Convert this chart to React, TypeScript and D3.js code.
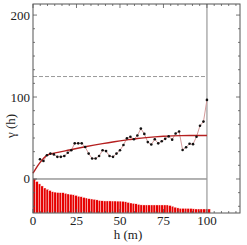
import React, { useRef, useEffect } from 'react';
import * as d3 from 'd3';

// experimental semivariogram: lag (m) and gamma
const lags = [4, 6, 8, 10, 12, 14, 16, 18, 20, 22, 24, 26, 28, 30, 32, 34, 36, 38, 40, 42, 44, 46, 48, 50,
  52, 54, 56, 58, 60, 62, 64, 66, 68, 70, 72, 74, 76, 78, 80, 82, 84, 86, 88, 90, 92, 94, 96, 98, 100];
const gamma = [24, 22, 29, 31, 30, 27, 27, 28, 32, 35, 43.5, 43.5, 43.5, 39, 31, 25, 25, 28, 35, 34, 28, 27, 31, 35,
  41.5, 49.6, 51.6, 48.4, 53, 61.5, 55, 45, 42, 48.4, 43.5, 46, 49, 52, 48, 55.5, 58, 35.4, 38.7, 43, 42.5, 51.6, 65, 70, 96.5];

// fitted model curve
const modelH = [0, 2, 4, 6, 8, 10, 15, 20, 25, 30, 35, 40, 45, 50, 55, 60, 65, 70, 75, 80, 85, 90, 100];
const modelG = [7, 14, 20, 25, 29, 30.5, 32.8, 35, 37.2, 39.3, 41.3, 43.1, 44.8, 46.5, 48, 49.4, 50.5, 51.4, 52.1, 52.6, 52.9, 53, 53];

// bars hanging below zero (bar top value), one per 1.5 m
const barStep = 1.5;
const barTops = [0, -3, -6, -8.5, -11, -12.5, -14, -15.5, -16, -16.5, -16.7, -16.7, -17.5, -18.3, -18.7, -19.3,
  -20, -21, -21.6, -22.5, -23.2, -24, -24.4, -24.8, -25.5, -26.2, -26.6, -26.8, -26.8, -26.8, -26.9, -26.9,
  -27, -27, -27.2, -27.8, -28.6, -29.3, -29.8, -30.3, -31, -31.6, -31.7, -31.7, -31.7, -31.7, -31.7, -31.7,
  -31.7, -31.7, -31.7, -31.7, -32.3, -33.2, -34.4, -35.3, -35.8, -35.8, -35.8, -35.9, -35.9, -36.4, -36.6,
  -36.6, -36.6, -36.6, -36.6, -36.6];

const sill = 125;
const xTicks = [0, 25, 50, 75, 100];
const yTicks = [0, 100, 200];

const W = 247;
const H = 245;

const App: React.FC = () => {
  const svgRef = useRef<SVGSVGElement>(null);

  useEffect(() => {
    if (!svgRef.current) return;
    const svg = d3.select(svgRef.current);
    svg.selectAll('*').remove();

    const left = 33, right = 240, top = 4, bottom = 213;
    const x = d3.scaleLinear().domain([0, 119]).range([left, right]);
    const y = d3.scaleLinear().domain([-41.5, 213.5]).range([bottom, top]);
    const font = "'Liberation Serif', 'Times New Roman', 'DejaVu Serif', serif";
    const frame = '#555';

    // bars
    svg.append('g')
      .selectAll('rect')
      .data(barTops)
      .join('rect')
      .attr('x', (_, i) => x(i * barStep))
      .attr('width', x(barStep) - x(0))
      .attr('y', d => y(d))
      .attr('height', d => bottom - y(d))
      .attr('fill', '#e60000')
      .attr('stroke', '#ffffff')
      .attr('stroke-width', 0.4);

    // zero line
    svg.append('line')
      .attr('x1', x(0)).attr('x2', x(100))
      .attr('y1', y(0)).attr('y2', y(0))
      .attr('stroke', '#666').attr('stroke-width', 1);

    // sill (dashed)
    svg.append('line')
      .attr('x1', x(0)).attr('x2', x(100))
      .attr('y1', y(sill)).attr('y2', y(sill))
      .attr('stroke', '#999').attr('stroke-width', 1)
      .attr('stroke-dasharray', '4,2');

    // max lag line
    svg.append('line')
      .attr('x1', x(100)).attr('x2', x(100))
      .attr('y1', top).attr('y2', bottom)
      .attr('stroke', '#999').attr('stroke-width', 1.2);

    // experimental points joined
    const pts = lags.map((h, i) => [h, gamma[i]] as [number, number]);
    svg.append('path')
      .datum(pts)
      .attr('fill', 'none')
      .attr('stroke', '#d49a9a')
      .attr('stroke-width', 1)
      .attr('d', d3.line<[number, number]>().x(d => x(d[0])).y(d => y(d[1])));

    // model curve
    const model = modelH.map((h, i) => [h, modelG[i]] as [number, number]);
    svg.append('path')
      .datum(model)
      .attr('fill', 'none')
      .attr('stroke', '#b52020')
      .attr('stroke-width', 1.4)
      .attr('d', d3.line<[number, number]>().x(d => x(d[0])).y(d => y(d[1])).curve(d3.curveMonotoneX));

    svg.append('g')
      .selectAll('circle')
      .data(pts)
      .join('circle')
      .attr('cx', d => x(d[0]))
      .attr('cy', d => y(d[1]))
      .attr('r', 1.3)
      .attr('fill', '#111');

    // frame
    svg.append('rect')
      .attr('x', left).attr('y', top)
      .attr('width', right - left).attr('height', bottom - top)
      .attr('fill', 'none').attr('stroke', frame).attr('stroke-width', 1);

    // ticks: 6 subdivisions per major step
    const ticks = svg.append('g').attr('stroke', frame).attr('stroke-width', 0.8);
    const xMinor = d3.range(0, 119, 25 / 6);
    xMinor.forEach((v, i) => {
      const len = i % 6 === 0 ? 4 : 2;
      ticks.append('line').attr('x1', x(v)).attr('x2', x(v)).attr('y1', top).attr('y2', top + len);
      ticks.append('line').attr('x1', x(v)).attr('x2', x(v)).attr('y1', bottom).attr('y2', bottom - len);
    });
    const yMinor = d3.range(-100 / 3, 213, 100 / 6);
    yMinor.forEach((v) => {
      const r = Math.abs(v) % 100;
      const len = r < 0.01 || r > 99.99 ? 4 : 2;
      ticks.append('line').attr('x1', left).attr('x2', left + len).attr('y1', y(v)).attr('y2', y(v));
      ticks.append('line').attr('x1', right).attr('x2', right - len).attr('y1', y(v)).attr('y2', y(v));
    });

    // tick labels
    svg.append('g')
      .selectAll('text')
      .data(xTicks)
      .join('text')
      .attr('x', d => x(d))
      .attr('y', 225)
      .attr('text-anchor', 'middle')
      .attr('font-family', font)
      .attr('font-size', 13)
      .attr('fill', '#222')
      .text(d => String(d));

    svg.append('g')
      .selectAll('text')
      .data(yTicks)
      .join('text')
      .attr('x', left - 3)
      .attr('y', d => y(d) + 4.5)
      .attr('text-anchor', 'end')
      .attr('font-family', font)
      .attr('font-size', 13)
      .attr('fill', '#222')
      .text(d => String(d));

    // axis titles
    svg.append('text')
      .attr('x', 128).attr('y', 239)
      .attr('text-anchor', 'middle')
      .attr('font-family', font)
      .attr('font-size', 13)
      .attr('fill', '#222')
      .text('h (m)');

    svg.append('text')
      .attr('transform', 'translate(15,126) rotate(-90)')
      .attr('text-anchor', 'middle')
      .attr('font-family', font)
      .attr('font-size', 13)
      .attr('fill', '#222')
      .text('γ (h)');
  }, []);

  return (
    <svg
      ref={svgRef}
      width={W}
      height={H}
      style={{ position: 'absolute', left: 0, top: 0, background: '#fff' }}
    />
  );
};

export default App;
